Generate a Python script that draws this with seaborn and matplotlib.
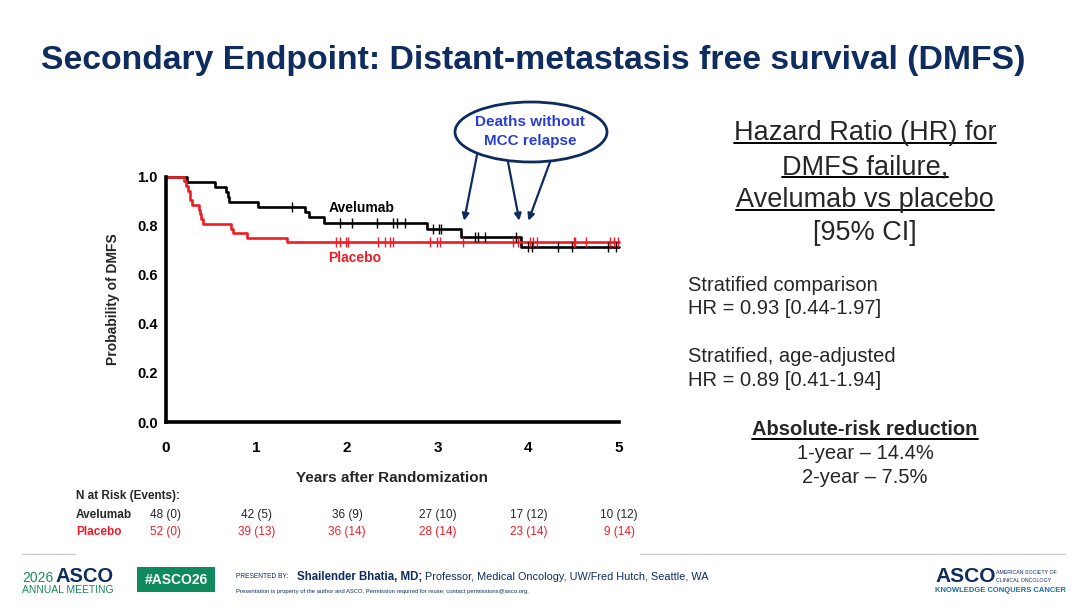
import numpy as np
import pandas as pd
import matplotlib
matplotlib.use("Agg")
import matplotlib.pyplot as plt
import matplotlib.transforms as mtransforms
from matplotlib.patches import Ellipse, Rectangle
import seaborn as sns

# --- data --------------------------------------------------------------------
avelumab_times = [0.0, 0.23, 0.54, 0.66, 0.68, 0.70, 1.02, 1.53, 1.58, 1.74, 2.88, 3.26, 3.92]
avelumab_surv = [1.0, 0.979, 0.958, 0.938, 0.917, 0.896, 0.875, 0.854, 0.833, 0.810, 0.787, 0.754, 0.713]
avelumab_censor = [1.39, 1.92, 2.05, 2.33, 2.51, 2.55, 2.64, 2.95, 3.01, 3.04, 3.41, 3.44, 3.52,
                   3.86, 4.00, 4.04, 4.33, 4.48, 4.88, 4.97]

placebo_times = [0.0, 0.20, 0.22, 0.24, 0.26, 0.27, 0.29, 0.36, 0.375, 0.39, 0.41, 0.72, 0.74, 0.89, 1.34]
placebo_surv = [1.0, 0.981, 0.962, 0.942, 0.923, 0.904, 0.885, 0.865, 0.846, 0.827, 0.808, 0.788, 0.769, 0.750, 0.735]
placebo_censor = [1.88, 1.92, 1.99, 2.01, 2.34, 2.42, 2.47, 2.51, 2.91, 2.99, 3.02, 3.28, 3.83, 3.89,
                  4.02, 4.05, 4.09, 4.50, 4.51, 4.64, 4.90, 4.94, 4.99]
followup_end = 5.0

risk_years = [0, 1, 2, 3, 4, 5]
avelumab_risk = ["48 (0)", "42 (5)", "36 (9)", "27 (10)", "17 (12)", "10 (12)"]
placebo_risk = ["52 (0)", "39 (13)", "36 (14)", "28 (14)", "23 (14)", "9 (14)"]

arrow_targets = [(3.29, 0.82), (3.90, 0.82), (4.00, 0.82)]

hr_header = ["Hazard Ratio (HR) for", "DMFS failure,", "Avelumab vs placebo", "[95% CI]"]
hr_lines = ["Stratified comparison", "HR = 0.93 [0.44-1.97]",
            "Stratified, age-adjusted", "HR = 0.89 [0.41-1.94]"]
arr_lines = ["1-year \u2013 14.4%", "2-year \u2013 7.5%"]

RED = "#EE1C25"
NAVY = "#0E2C5E"
BLUE = "#2A3FD1"
GREEN = "#1B8A5A"

sns.set_style("white")
plt.rcParams['font.family'] = ['Liberation Sans', 'DejaVu Sans']

fig = plt.figure(figsize=(10.8, 6.08), dpi=100)
fig.patch.set_facecolor('white')

# overlay in image pixels for slide furniture
bg = fig.add_axes([0, 0, 1, 1], zorder=3)
bg.set_xlim(0, 1080)
bg.set_ylim(608, 0)
bg.axis('off')

ax = fig.add_axes([166 / 1080, 1 - 422 / 608, (619 - 166) / 1080, (422 - 176.5) / 608])

# --- KM curves ----------------------------------------------------------------
def km_frame(times, surv, arm):
    t = list(times) + [followup_end]
    s = list(surv) + [surv[-1]]
    return pd.DataFrame({'years': t, 'surv': s, 'arm': arm})

km = pd.concat([km_frame(avelumab_times, avelumab_surv, 'Avelumab'),
                km_frame(placebo_times, placebo_surv, 'Placebo')], ignore_index=True)

sns.lineplot(data=km, x='years', y='surv', hue='arm', palette={'Avelumab': 'black', 'Placebo': RED},
             drawstyle='steps-post', estimator=None, lw=1.9, legend=False, ax=ax, clip_on=False)

def surv_at(times, surv, pts):
    idx = np.searchsorted(times, pts, side='right') - 1
    return np.asarray(surv)[idx]

ax.plot(placebo_censor, surv_at(placebo_times, placebo_surv, placebo_censor), ls='none',
        marker='|', ms=7, mew=1.0, color=RED, clip_on=False)
ax.plot(avelumab_censor, surv_at(avelumab_times, avelumab_surv, avelumab_censor), ls='none',
        marker='|', ms=7, mew=1.0, color='black', clip_on=False)

ax.set_xlim(0, 5)
ax.set_ylim(0, 1)
for sp in ['top', 'right']:
    ax.spines[sp].set_visible(False)
for sp in ['left', 'bottom']:
    ax.spines[sp].set_linewidth(2.6)
    ax.spines[sp].set_color('black')
ax.set_xticks(risk_years)
ax.set_yticks([0, 0.2, 0.4, 0.6, 0.8, 1.0])
ax.set_yticklabels([f"{v:.1f}" for v in [0, 0.2, 0.4, 0.6, 0.8, 1.0]])
ax.tick_params(axis='both', direction='out', length=4, width=1.2, colors='black')
ax.tick_params(axis='x', pad=10, labelsize=11)
ax.tick_params(axis='y', pad=2, labelsize=10.5)
for lab in ax.get_xticklabels() + ax.get_yticklabels():
    lab.set_fontweight('bold')
ax.set_xlabel("Years after Randomization", fontsize=11, fontweight='bold', labelpad=11)
ax.set_ylabel("Probability of DMFS", fontsize=10, fontweight='bold', labelpad=12)

ax.text(1.79, 0.873, "Avelumab", fontsize=10, fontweight='bold', color='black', va='center')
ax.text(1.79, 0.667, "Placebo", fontsize=10, fontweight='bold', color=RED, va='center')

# --- at-risk table ---------------------------------------------------------------
bg.text(76, 496, "N at Risk (Events):", fontsize=8.5, fontweight='bold', va='center')
bg.text(76, 515, "Avelumab", fontsize=8.5, fontweight='bold', va='center')
bg.text(76, 532, "Placebo", fontsize=8.5, fontweight='bold', va='center', color=RED)
mixed = mtransforms.blended_transform_factory(ax.transData, bg.transData)
for yr, a, p in zip(risk_years, avelumab_risk, placebo_risk):
    ax.text(yr, 515, a, transform=mixed, fontsize=8.5, ha='center', va='center', clip_on=False)
    ax.text(yr, 532, p, transform=mixed, fontsize=8.5, ha='center', va='center', color=RED, clip_on=False)

# --- callout ---------------------------------------------------------------------
bg.add_patch(Ellipse((531, 132), 152, 60, facecolor='white', edgecolor=NAVY, lw=2))
bg.text(530, 122, "Deaths without", fontsize=11, fontweight='bold', color=BLUE, ha='center', va='center')
bg.text(530, 141, "MCC relapse", fontsize=11, fontweight='bold', color=BLUE, ha='center', va='center')
tails = [(477, 155), (508, 162), (550, 162)]
for (tx, ty), tgt in zip(tails, arrow_targets):
    ax.annotate("", xy=tgt, xycoords='data', xytext=(tx, 608 - ty), textcoords='figure pixels',
                arrowprops=dict(arrowstyle='-|>', color=NAVY, lw=1.6, mutation_scale=10, shrinkA=0, shrinkB=0),
                annotation_clip=False)

# --- right-hand text -------------------------------------------------------------
underlined = []
for s, base, ul in zip(hr_header, [140, 174, 207, 240], [True, True, True, False]):
    t = bg.text(865, base, s, fontsize=19.5, ha='center', va='baseline')
    if ul:
        underlined.append((t, base + 3))
for s, base in zip(hr_lines, [291, 314, 362, 386]):
    bg.text(688, base, s, fontsize=14.5, ha='left', va='baseline')
t = bg.text(865, 435, "Absolute-risk reduction", fontsize=14.5, fontweight='bold', ha='center', va='baseline')
underlined.append((t, 439))
for s, base in zip(arr_lines, [459, 483]):
    bg.text(865, base, s, fontsize=14.5, ha='center', va='baseline')

# --- title -----------------------------------------------------------------------
bg.text(533, 60, "Secondary Endpoint: Distant-metastasis free survival (DMFS)", fontsize=24.3,
        fontweight='bold', color=NAVY, ha='center', va='center')

# --- footer ----------------------------------------------------------------------
bg.plot([22, 75], [554, 554], color='#C8CCD2', lw=1)
bg.plot([640, 1065], [554, 554], color='#C8CCD2', lw=1)
bg.text(22, 578, "2026", fontsize=10, color=GREEN, va='center')
bg.text(55, 577, "ASCO", fontsize=14.5, fontweight='bold', color=NAVY, va='center')
bg.text(22, 590, "ANNUAL MEETING", fontsize=7.5, color=GREEN, va='center')
bg.add_patch(Rectangle((137, 567), 78, 25, facecolor='#0F8A5F', edgecolor='none'))
bg.text(176, 579.5, "#ASCO26", fontsize=10, fontweight='bold', color='white', ha='center', va='center')
bg.text(236, 577, "PRESENTED BY:", fontsize=4.8, color=NAVY, va='center')
presenter = bg.text(297, 577, "Shailender Bhatia, MD;", fontsize=8.3, fontweight='bold', color=NAVY, va='center')
bg.text(236, 591, "Presentation is property of the author and ASCO. Permission required for reuse; contact permissions@asco.org.",
        fontsize=4.2, color=NAVY, va='center')
bg.text(935, 577, "ASCO", fontsize=15, fontweight='bold', color=NAVY, va='center')
bg.text(996, 573, "AMERICAN SOCIETY OF", fontsize=3.8, color=NAVY, va='center')
bg.text(996, 580, "CLINICAL ONCOLOGY", fontsize=3.8, color=NAVY, va='center')
bg.text(935, 591, "KNOWLEDGE CONQUERS CANCER", fontsize=5.5, fontweight='bold', color='#1D6FA0', va='center')

# underline / follow-on text after layout is known
fig.canvas.draw()
for t, yline in underlined:
    bb = t.get_window_extent()
    bg.plot([bb.x0, bb.x1], [yline, yline], color='black', lw=1.4)
pb = presenter.get_window_extent()
bg.text(pb.x1 + 3, 577, "Professor, Medical Oncology, UW/Fred Hutch, Seattle, WA", fontsize=7.8,
        color=NAVY, va='center')

fig.savefig("out.png", dpi=100, facecolor='white')
plt.close(fig)
